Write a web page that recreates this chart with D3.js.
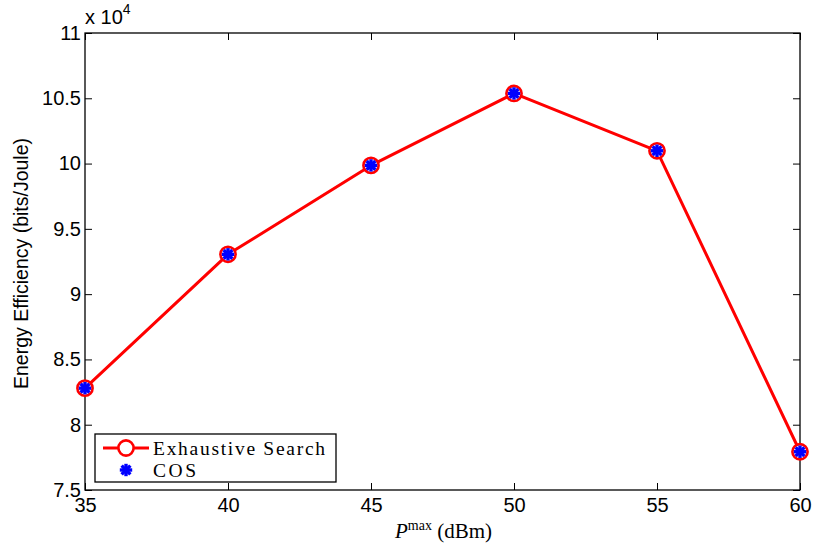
<!DOCTYPE html>
<html>
<head>
<meta charset="utf-8">
<script src="https://cdn.jsdelivr.net/npm/d3@7"></script>
<style>
  body { margin: 0; background: #fff; }
  svg { display: block; }
</style>
</head>
<body>
<svg id="chart" width="816" height="548"></svg>
<script>
// Transmit power budget (dBm) and resulting energy efficiency (bits/Joule)
const powerDbm = [35, 40, 45, 50, 55, 60];
const exhaustiveSearch = [82800, 93050, 99860, 105370, 100980, 77930];
const cosValues = [82800, 93050, 99860, 105370, 100980, 77930];
const xTicks = [35, 40, 45, 50, 55, 60];
const yTicks = [7.5, 8, 8.5, 9, 9.5, 10, 10.5, 11];
const yExponent = 4;
const seriesNames = ["Exhaustive Search", "COS"];

const svg = d3.select("#chart");
const margin = { left: 85, right: 16, top: 33, bottom: 58 };
const W = 816, H = 548;
const iw = W - margin.left - margin.right;
const ih = H - margin.top - margin.bottom;

const x = d3.scaleLinear().domain([35, 60]).range([0, iw]);
const y = d3.scaleLinear().domain([7.5e4, 11e4]).range([ih, 0]);

const g = svg.append("g").attr("transform", `translate(${margin.left},${margin.top})`);
const tickFont = "'Liberation Sans', Arial, Helvetica, sans-serif";
const serif = "'Liberation Serif', 'Times New Roman', serif";

// Axes with inward ticks on all four sides
const tickLen = 7;
const yVals = yTicks.map(v => v * Math.pow(10, yExponent));
const fmtY = v => String(+(v / Math.pow(10, yExponent)).toFixed(1));

const axBottom = g.append("g").attr("transform", `translate(0,${ih})`)
  .call(d3.axisBottom(x).tickValues(xTicks).tickSizeInner(-tickLen).tickSizeOuter(0).tickPadding(8));
const axTop = g.append("g")
  .call(d3.axisTop(x).tickValues(xTicks).tickSizeInner(-tickLen).tickSizeOuter(0).tickFormat(""));
const axLeft = g.append("g")
  .call(d3.axisLeft(y).tickValues(yVals).tickSizeInner(-tickLen).tickSizeOuter(0).tickPadding(4).tickFormat(fmtY));
const axRight = g.append("g").attr("transform", `translate(${iw},0)`)
  .call(d3.axisRight(y).tickValues(yVals).tickSizeInner(-tickLen).tickSizeOuter(0).tickFormat(""));

[axBottom, axTop, axLeft, axRight].forEach(a => {
  a.select(".domain").remove();
  a.selectAll("line").attr("stroke", "#000").attr("stroke-width", 1);
  a.selectAll("text").attr("font-family", tickFont).attr("font-size", 20).attr("fill", "#000");
});

// Plot box
g.append("rect").attr("x", 0).attr("y", 0).attr("width", iw).attr("height", ih)
  .attr("fill", "none").attr("stroke", "#000").attr("stroke-width", 1.3);

// Exponent label
const expLabel = g.append("text").attr("x", 0).attr("y", -9)
  .attr("font-family", tickFont).attr("font-size", 20).attr("fill", "#000");
expLabel.append("tspan").text("x 10");
expLabel.append("tspan").attr("dy", -10).attr("font-size", 14).text(yExponent);

// Axis titles
const xTitle = svg.append("text").attr("x", margin.left + iw / 2 + 1).attr("y", 538)
  .attr("text-anchor", "middle").attr("font-family", serif).attr("font-size", 21).attr("fill", "#000");
xTitle.append("tspan").attr("font-style", "italic").text("P");
xTitle.append("tspan").attr("dy", -8).attr("font-size", 14).text("max");
xTitle.append("tspan").attr("dy", 8).text(" (dBm)");

svg.append("text")
  .attr("transform", `translate(28,${margin.top + ih / 2 + 2}) rotate(-90)`)
  .attr("text-anchor", "middle").attr("font-family", tickFont).attr("font-size", 19.5).attr("fill", "#000")
  .text("Energy Efficiency (bits/Joule)");

// Exhaustive search line with circle markers
const pts = powerDbm.map((p, i) => [x(p), y(exhaustiveSearch[i])]);
g.append("path").attr("d", d3.line()(pts))
  .attr("fill", "none").attr("stroke", "#ff0000").attr("stroke-width", 3).attr("stroke-linejoin", "round");

function asterisk(sel, r) {
  [0, 45, 90, 135].forEach(a => {
    const rad = a * Math.PI / 180;
    sel.append("line")
      .attr("x1", -r * Math.cos(rad)).attr("y1", -r * Math.sin(rad))
      .attr("x2", r * Math.cos(rad)).attr("y2", r * Math.sin(rad))
      .attr("stroke", "#0000ff").attr("stroke-width", 3.4);
  });
}

powerDbm.forEach((p, i) => {
  g.append("circle").attr("cx", x(p)).attr("cy", y(exhaustiveSearch[i])).attr("r", 7.6)
    .attr("fill", "#fff").attr("stroke", "#ff0000").attr("stroke-width", 2.6);
});
// COS results drawn as asterisks on top
powerDbm.forEach((p, i) => {
  const m = g.append("g").attr("transform", `translate(${x(p)},${y(cosValues[i])})`);
  asterisk(m, 6.2);
});

// Legend
const labelWidths = [172, 43];
const lg = g.append("g").attr("transform", `translate(10,${ih - 56})`);
lg.append("rect").attr("width", 241).attr("height", 48)
  .attr("fill", "#fff").attr("stroke", "#000").attr("stroke-width", 1.3);
lg.append("line").attr("x1", 8).attr("x2", 54).attr("y1", 14).attr("y2", 14)
  .attr("stroke", "#ff0000").attr("stroke-width", 3);
lg.append("circle").attr("cx", 31).attr("cy", 14).attr("r", 7.6)
  .attr("fill", "#fff").attr("stroke", "#ff0000").attr("stroke-width", 2.6);
asterisk(lg.append("g").attr("transform", "translate(31,36)"), 6.2);
lg.selectAll("text.lbl").data(seriesNames).enter().append("text")
  .attr("class", "lbl")
  .attr("x", 58).attr("y", (d, i) => 21 + i * 22)
  .attr("font-family", serif).attr("font-size", 19.5).attr("fill", "#000")
  .attr("textLength", (d, i) => labelWidths[i]).attr("lengthAdjust", "spacing")
  .text(d => d);
</script>
</body>
</html>
